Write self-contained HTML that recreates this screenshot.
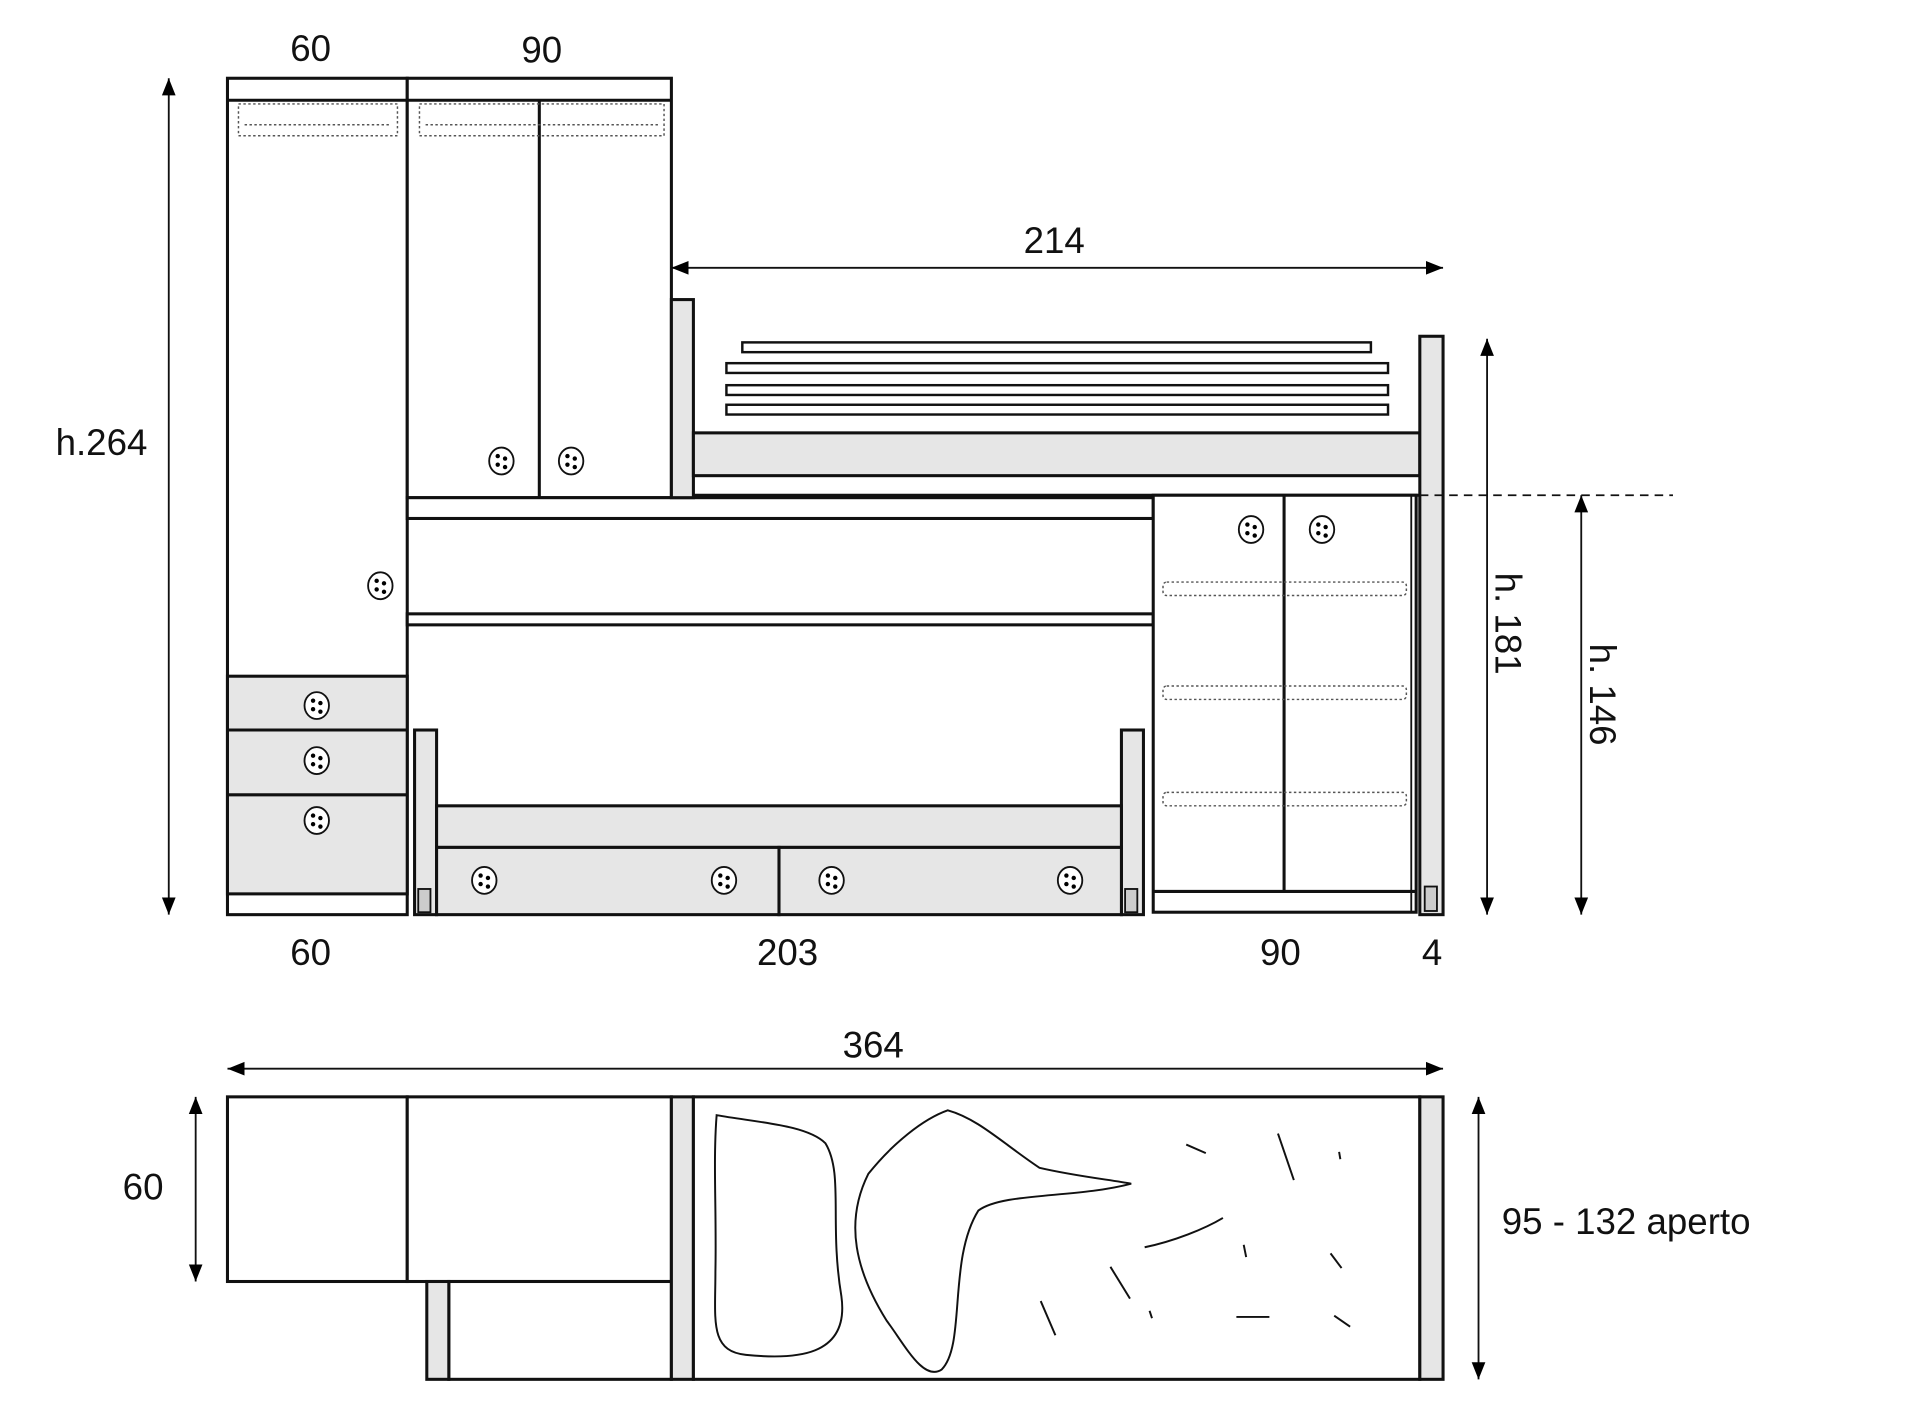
<!DOCTYPE html>
<html><head><meta charset="utf-8"><style>
html,body{margin:0;padding:0;background:#fff}
svg{display:block}
text{font-family:"Liberation Sans",sans-serif;font-size:30px;fill:#111}
</style></head><body>
<svg width="1920" height="1405" viewBox="0 0 1570 1149" preserveAspectRatio="none" xmlns="http://www.w3.org/2000/svg">
<defs>
<marker id="a" viewBox="0 0 10 10" refX="10" refY="5" markerWidth="14" markerHeight="14" markerUnits="userSpaceOnUse" orient="auto-start-reverse"><path d="M0,1 L10,5 L0,9 z" fill="#000"/></marker>
<g id="h"><ellipse cx="0" cy="0" rx="10" ry="11" fill="#fff" stroke="#111" stroke-width="1.5"/><circle cx="-3" cy="-4" r="1.8"/><circle cx="3" cy="-2" r="1.8"/><circle cx="-3" cy="3" r="1.8"/><circle cx="3" cy="5" r="1.8"/></g>
</defs>
<g stroke="#111" stroke-width="2.5" fill="#fff">
<rect x="186" y="64" width="147" height="684"/>
<line x1="186" y1="82" x2="333" y2="82"/>
<rect x="186" y="553" width="147" height="178" fill="#e6e6e6"/>
<line x1="186" y1="597" x2="333" y2="597"/>
<line x1="186" y1="650" x2="333" y2="650"/>
<rect x="333" y="64" width="216" height="343"/>
<line x1="333" y1="82" x2="549" y2="82"/>
<line x1="441" y1="82" x2="441" y2="407"/>
<rect x="333" y="407" width="610" height="17"/>
<rect x="333" y="502" width="610" height="9"/>
<rect x="549" y="245" width="18" height="162" fill="#e6e6e6"/>
<rect x="567" y="354" width="594" height="35" fill="#e6e6e6"/>
<line x1="567" y1="405" x2="1161" y2="405"/>
<rect x="607" y="280" width="514" height="8" stroke-width="2"/>
<rect x="594" y="297" width="541" height="8" stroke-width="2"/>
<rect x="594" y="315" width="541" height="8" stroke-width="2"/>
<rect x="594" y="331" width="541" height="8" stroke-width="2"/>
<rect x="1161" y="275" width="19" height="473" fill="#e6e6e6"/>
<rect x="1165" y="725" width="10" height="20" fill="#ccc" stroke-width="1.5"/>
<rect x="943" y="405" width="215" height="341"/>
<line x1="943" y1="729" x2="1158" y2="729"/>
<line x1="1050" y1="405" x2="1050" y2="729"/>
<line x1="1154" y1="405" x2="1154" y2="746" stroke-width="1.5"/>
<rect x="339" y="597" width="18" height="151" fill="#e6e6e6"/>
<rect x="917" y="597" width="18" height="151" fill="#e6e6e6"/>
<rect x="342" y="727" width="10" height="19" fill="#ccc" stroke-width="1.5"/>
<rect x="920" y="727" width="10" height="19" fill="#ccc" stroke-width="1.5"/>
<rect x="357" y="659" width="560" height="34" fill="#e6e6e6"/>
<rect x="357" y="693" width="280" height="55" fill="#e6e6e6"/>
<rect x="637" y="693" width="280" height="55" fill="#e6e6e6"/>
</g>
<g fill="none" stroke="#555" stroke-width="1.2" stroke-dasharray="2,2">
<rect x="195" y="85" width="130" height="26"/>
<rect x="343" y="85" width="200" height="26"/>
<line x1="200" y1="102" x2="320" y2="102"/>
<line x1="348" y1="102" x2="538" y2="102"/>
<rect x="951" y="476" width="199" height="11" rx="3"/>
<rect x="951" y="561" width="199" height="11" rx="3"/>
<rect x="951" y="648" width="199" height="11" rx="3"/>
</g>
<use href="#h" x="311" y="479"/><use href="#h" x="259" y="577"/><use href="#h" x="259" y="622"/><use href="#h" x="259" y="671"/>
<use href="#h" x="410" y="377"/><use href="#h" x="467" y="377"/>
<use href="#h" x="1023" y="433"/><use href="#h" x="1081" y="433"/>
<use href="#h" x="396" y="720"/><use href="#h" x="592" y="720"/><use href="#h" x="680" y="720"/><use href="#h" x="875" y="720"/>
<g stroke="#111" stroke-width="1.5" fill="none">
<line x1="138" y1="64" x2="138" y2="748" marker-start="url(#a)" marker-end="url(#a)"/>
<line x1="549" y1="219" x2="1180" y2="219" marker-start="url(#a)" marker-end="url(#a)"/>
<line x1="1216" y1="277" x2="1216" y2="748" marker-start="url(#a)" marker-end="url(#a)"/>
<line x1="1293" y1="405" x2="1293" y2="748" marker-start="url(#a)" marker-end="url(#a)"/>
<line x1="1161" y1="405" x2="1368" y2="405" stroke-dasharray="7,5"/>
<line x1="186" y1="874" x2="1180" y2="874" marker-start="url(#a)" marker-end="url(#a)"/>
<line x1="160" y1="897" x2="160" y2="1048" marker-start="url(#a)" marker-end="url(#a)"/>
<line x1="1209" y1="897" x2="1209" y2="1128" marker-start="url(#a)" marker-end="url(#a)"/>
</g>
<text x="254" y="50" text-anchor="middle">60</text>
<text x="443" y="51" text-anchor="middle">90</text>
<text x="83" y="372" text-anchor="middle">h.264</text>
<text x="862" y="207" text-anchor="middle">214</text>
<text transform="translate(1223,510) rotate(90)" text-anchor="middle">h. 181</text>
<text transform="translate(1300,568) rotate(90)" text-anchor="middle">h. 146</text>
<text x="254" y="789" text-anchor="middle">60</text>
<text x="644" y="789" text-anchor="middle">203</text>
<text x="1047" y="789" text-anchor="middle">90</text>
<text x="1171" y="789" text-anchor="middle">4</text>
<text x="714" y="865" text-anchor="middle">364</text>
<text x="117" y="981" text-anchor="middle">60</text>
<text x="1228" y="1009">95 - 132 aperto</text>
<g stroke="#111" stroke-width="2.5" fill="#fff">
<rect x="186" y="897" width="147" height="151"/>
<rect x="333" y="897" width="216" height="151"/>
<rect x="367" y="1048" width="182" height="80"/>
<rect x="349" y="1048" width="18" height="80" fill="#e6e6e6"/>
<rect x="549" y="897" width="18" height="231" fill="#e6e6e6"/>
<rect x="567" y="897" width="594" height="231"/>
<rect x="1161" y="897" width="19" height="231" fill="#e6e6e6"/>
</g>
<g stroke="#111" stroke-width="1.6" fill="none">
<path d="M586,912 C620,918 660,920 675,935 C690,960 678,1000 688,1060 C695,1110 650,1112 610,1108 C580,1105 585,1080 585,1040 C586,990 583,950 586,912 Z"/>
<path d="M775,908 C800,915 820,935 850,955 C880,962 910,965 925,968 C880,980 820,975 800,990 C775,1030 790,1100 770,1120 C755,1130 740,1100 725,1080 C700,1040 690,1000 710,960 C730,935 755,915 775,908 Z"/>
<path d="M936,1020 C960,1015 985,1005 1000,996"/>
<line x1="970" y1="936" x2="986" y2="943"/>
<line x1="1045" y1="927" x2="1058" y2="965"/>
<line x1="1095" y1="942" x2="1096" y2="948"/>
<line x1="1017" y1="1018" x2="1019" y2="1028"/>
<line x1="1088" y1="1025" x2="1097" y2="1037"/>
<line x1="908" y1="1036" x2="924" y2="1062"/>
<line x1="851" y1="1064" x2="863" y2="1092"/>
<line x1="940" y1="1072" x2="942" y2="1078"/>
<line x1="1011" y1="1077" x2="1038" y2="1077"/>
<line x1="1091" y1="1076" x2="1104" y2="1085"/>
</g>
</svg>
</body></html>
